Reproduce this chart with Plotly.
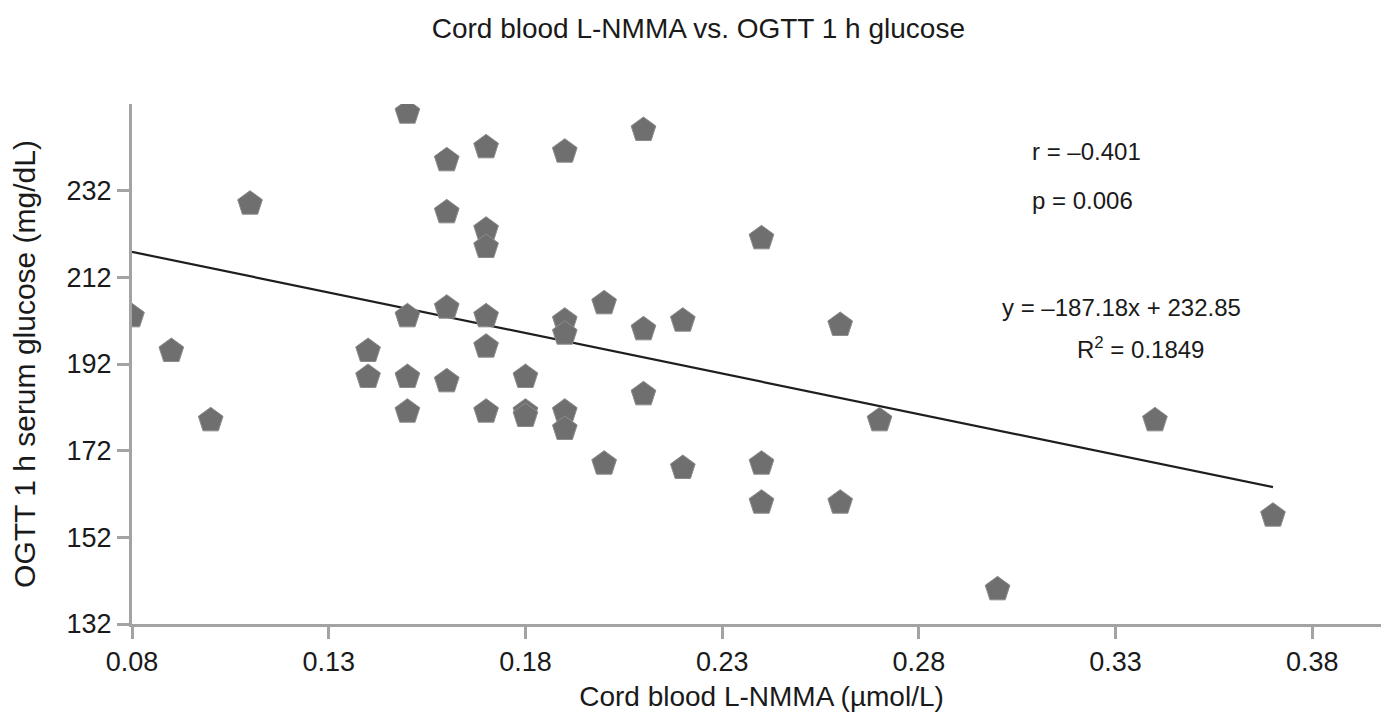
import numpy as np
import plotly.graph_objects as go

# Data (x: cord blood L-NMMA, y: OGTT 1 h glucose)
lnmma = [0.08, 0.09, 0.10, 0.11,
         0.14, 0.14,
         0.15, 0.15, 0.15, 0.15,
         0.16, 0.16, 0.16, 0.16,
         0.17, 0.17, 0.17, 0.17, 0.17, 0.17,
         0.18, 0.18, 0.18,
         0.19, 0.19, 0.19, 0.19, 0.19,
         0.20, 0.20,
         0.21, 0.21, 0.21,
         0.22, 0.22,
         0.24, 0.24, 0.24,
         0.26, 0.26,
         0.27, 0.30, 0.34, 0.37]
glucose = [203, 195, 179, 229,
           195, 189,
           250, 203, 189, 181,
           239, 227, 205, 188,
           242, 223, 219, 203, 196, 181,
           189, 181, 180,
           241, 202, 199, 181, 177,
           206, 169,
           246, 200, 185,
           202, 168,
           221, 169, 160,
           201, 160,
           179, 140, 179, 157]

slope = -187.18
intercept = 232.85

x_ticks = [0.08, 0.13, 0.18, 0.23, 0.28, 0.33, 0.38]
y_ticks = [132, 152, 172, 192, 212, 232]

title_text = "Cord blood L-NMMA vs. OGTT 1 h glucose"
x_title = "Cord blood L-NMMA (\u00b5mol/L)"
y_title = "OGTT 1 h serum glucose (mg/dL)"
ann_r = "r = \u20130.401"
ann_p = "p = 0.006"
ann_eq = "y = \u2013187.18x + 232.85"
ann_r2 = "R<sup>2</sup> = 0.1849"

FONT = "Liberation Sans, Arial, sans-serif"
AXIS_COLOR = "#a3a3a3"

fit_x = np.array([min(lnmma), max(lnmma)])
fit_y = slope * fit_x + intercept

fig = go.Figure()
fig.add_trace(go.Scatter(
    x=fit_x, y=fit_y, mode="lines",
    line=dict(color="#1e1e1e", width=2.2),
    showlegend=False, hoverinfo="skip"))
fig.add_trace(go.Scatter(
    x=lnmma, y=glucose, mode="markers",
    marker=dict(symbol="pentagon", size=26, color="#6f6f6f",
                line=dict(color="#8c8c8c", width=1)),
    showlegend=False))

fig.update_layout(
    width=1389, height=715,
    margin=dict(l=124, r=6, t=96, b=99),
    paper_bgcolor="white", plot_bgcolor="white",
    font=dict(family=FONT, color="#1a1a1a", size=27),
    title=dict(text=title_text, x=0.497, xanchor="center", y=0.972, yanchor="middle",
               font=dict(size=28, family=FONT, color="#1a1a1a")),
)
fig.update_xaxes(
    range=[0.08, 0.40], tickvals=x_ticks, ticktext=[f"{v:.2f}" for v in x_ticks],
    showline=True, linecolor=AXIS_COLOR, linewidth=3,
    ticks="outside", ticklen=12, tickwidth=2.5, tickcolor=AXIS_COLOR,
    showgrid=False, zeroline=False,
    tickfont=dict(size=27),
    title=dict(text=x_title, font=dict(size=28), standoff=10),
)
fig.update_yaxes(
    range=[132, 252], tickvals=y_ticks,
    showline=True, linecolor=AXIS_COLOR, linewidth=3,
    ticks="outside", ticklen=12, tickwidth=2.5, tickcolor=AXIS_COLOR,
    showgrid=False, zeroline=False,
    tickfont=dict(size=27),
    title=dict(text=y_title, font=dict(size=30), standoff=28),
)

for txt, xp, yp in [(ann_r, 0.7133, 0.9096), (ann_p, 0.7133, 0.8135),
                    (ann_eq, 0.6894, 0.6077), (ann_r2, 0.749, 0.5308)]:
    fig.add_annotation(text=txt, xref="paper", yref="paper", x=xp, y=yp,
                       xanchor="left", yanchor="middle", showarrow=False,
                       font=dict(size=24, family=FONT, color="#1a1a1a"))

fig.write_html("out.html")
